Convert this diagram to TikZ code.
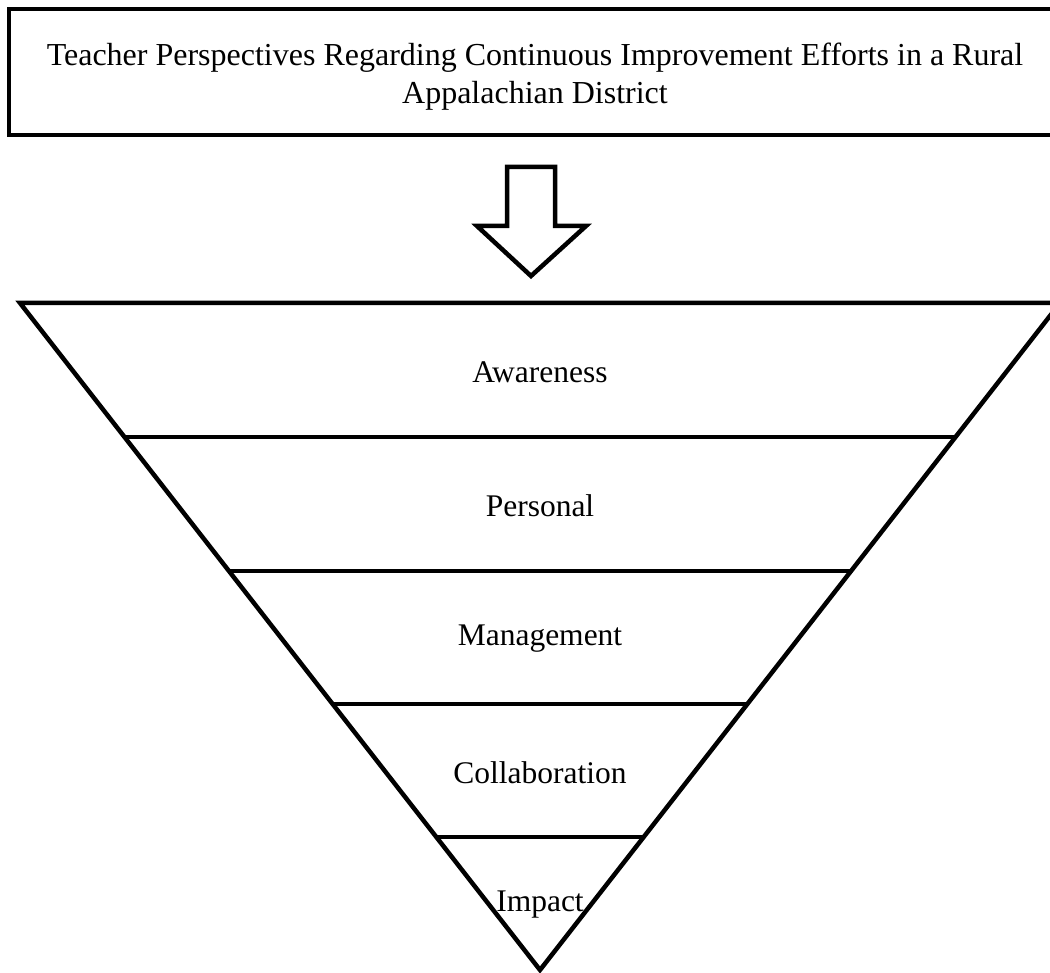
\documentclass[tikz,border=0pt]{standalone}
\usepackage{fontspec}
\setmainfont{Liberation Serif}
\usetikzlibrary{calc}
\tikzset{
  thick line/.style={line width=4.5pt, line join=miter},
  layer label/.style={font=\fontsize{31.5}{36}\selectfont, inner sep=0pt},
}
\begin{document}
\begin{tikzpicture}[x=1pt, y=-1pt]
			%%%%% START %%%%%
			\useasboundingbox[fill=white] (0, 0) rectangle (1050, 973);
			
			% title box (runs past the right edge)
			\draw[line width=4.8pt] (9, 9) rectangle (1066, 135);
			\node[font=\fontsize{32}{38}\selectfont, align=center, inner sep=0pt] (title) at (535, 76.5)
				{Teacher Perspectives Regarding Continuous Improvement Efforts in a Rural\\Appalachian District};
			
			% hollow down arrow
			\draw[thick line] (507, 167) -- (555, 167) -- (555, 226) -- (586, 226)
				-- (531, 276) -- (477, 226) -- (507, 226) -- cycle;
			
			% inverted pyramid
			\coordinate (tl) at (20, 303);
			\coordinate (tr) at (1060, 303);
			\coordinate (apex) at (540, 970);
			\draw[thick line] (tl) -- (tr) -- (apex) -- cycle;
			
			\foreach \y in {437, 571, 704, 837} {
				\draw[thick line] ($(tl)!{(\y-303)/667}!(apex)$) -- ($(tr)!{(\y-303)/667}!(apex)$);
			}
			
			\node[layer label] (awareness) at (540, 372) {Awareness};
			\node[layer label] (personal) at (540, 506) {Personal};
			\node[layer label] (management) at (540, 639) {Management};
			\node[layer label] (collaboration) at (540, 773) {Collaboration};
			\node[layer label] (impact) at (540, 905) {Impact};
			%%%%% END %%%%%
\end{tikzpicture}
\end{document}
